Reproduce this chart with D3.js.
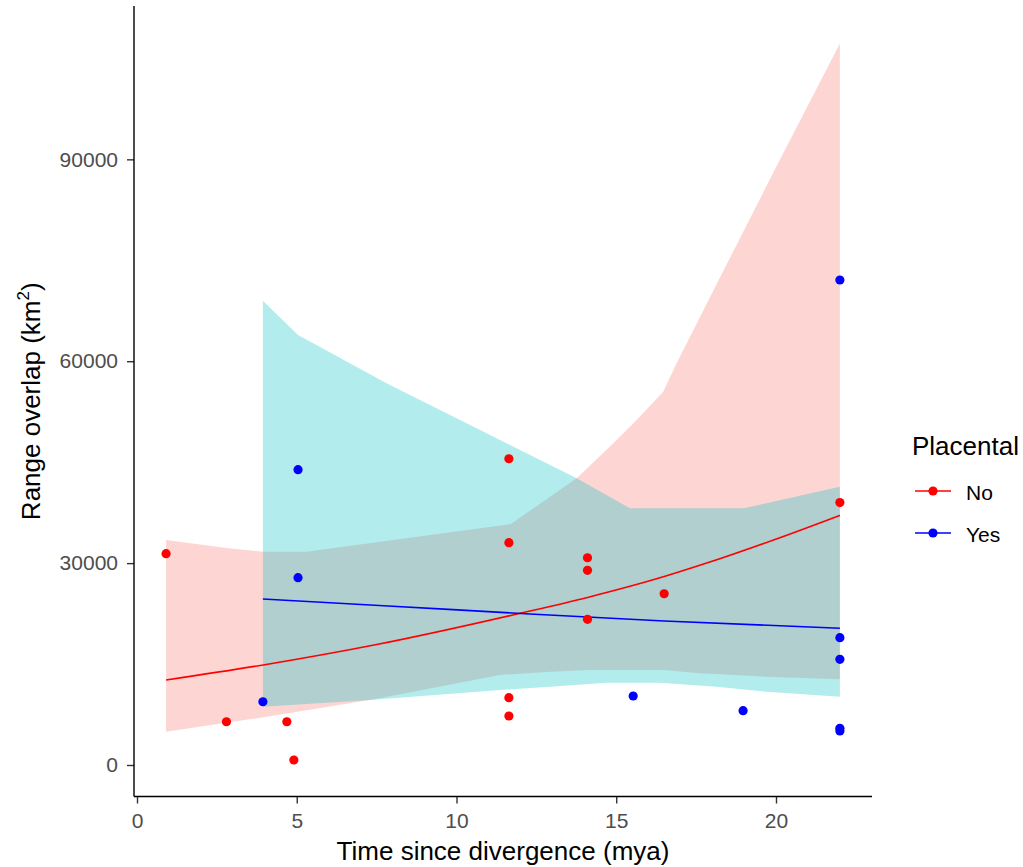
<!DOCTYPE html>
<html>
<head>
<meta charset="utf-8">
<script src="https://cdn.jsdelivr.net/npm/d3@7"></script>
<style>
  html, body { margin: 0; padding: 0; background: #fff; }
  svg { display: block; font-family: "Liberation Sans", Arial, sans-serif; }
</style>
</head>
<body>
<svg id="chart" width="1023" height="867"></svg>
<script>
// ---- data ----
const groups = ["No", "Yes"];
const groupColors = ["red", "blue"];
const ribbonColors = ["#F8766D", "#00BFC4"];

// observed points: [time (mya), range overlap (km2)]
const pointsNo = [
  [0.91, 31400], [2.8, 6430], [4.69, 6430], [4.91, 740],
  [11.64, 45510], [11.64, 33030], [11.64, 10000], [11.64, 7280],
  [14.1, 30800], [14.1, 28930], [14.1, 21650], [16.5, 25450], [22, 39000]
];
const pointsYes = [
  [3.94, 9400], [5.04, 43880], [5.04, 27830], [15.53, 10250], [18.97, 8070],
  [22, 72070], [22, 18920], [22, 15700], [22, 5450], [22, 5050]
];

// fitted lines
const fitNo = [
  [0.91, 12630], [3.95, 14860], [7.5, 17900], [11.99, 22540], [14.1, 24900],
  [16.5, 28000], [17.83, 30000], [19.9, 33400], [22, 37100]
];
const fitYes = [
  [3.94, 24670], [8, 23600], [12.3, 22440], [16.5, 21400], [22, 20310]
];

// confidence ribbons
const upperNo = [
  [0.91, 33430], [2.86, 32200], [3.95, 31700], [5.3, 31700], [11.7, 35800],
  [13.76, 42600], [14.91, 47800], [15.64, 51270], [16.47, 55470], [16.89, 59700],
  [18.04, 70500], [20.02, 89000], [22, 107230]
];
const lowerNo = [
  [0.91, 4950], [3.95, 7090], [7.29, 9660], [11.36, 13370], [12.93, 13870],
  [14.18, 14120], [16.47, 14120], [17.62, 13630], [19.71, 13120], [22, 12740]
];
const upperYes = [
  [3.94, 69000], [5.04, 63900], [7.81, 56720], [11.05, 49040], [13.76, 42600],
  [15.43, 38150], [19.0, 38150], [22, 41360]
];
const lowerYes = [
  [3.94, 8670], [7.29, 9660], [11.36, 11150], [12.93, 11640], [14.7, 12230],
  [16.37, 12230], [18.14, 11640], [19.71, 10890], [22, 10150]
];

const xTicks = [0, 5, 10, 15, 20];
const yTicks = [0, 30000, 60000, 90000];
const xTitle = "Time since divergence (mya)";
const yTitle = "Range overlap (km";
const legendTitle = "Placental";

// ---- layout ----
const svg = d3.select("#chart");
svg.append("rect").attr("width", 1023).attr("height", 867).attr("fill", "#fff");

const panel = { left: 134, right: 872, top: 6, bottom: 796.5 };
const x = d3.scaleLinear().domain([-0.094, 23.005]).range([panel.left, panel.right]);
const y = d3.scaleLinear().domain([-4681, 112787]).range([panel.bottom, panel.top]);

const lineGen = d3.line().x(d => x(d[0])).y(d => y(d[1]));
const curveGen = d3.line().x(d => x(d[0])).y(d => y(d[1])).curve(d3.curveMonotoneX);

// ribbons
const ribbons = [[upperNo, lowerNo], [upperYes, lowerYes]];
ribbons.forEach((r, i) => {
  const poly = r[0].concat(r[1].slice().reverse());
  svg.append("path")
    .attr("d", lineGen(poly) + "Z")
    .attr("fill", ribbonColors[i])
    .attr("fill-opacity", 0.3)
    .attr("stroke", "none");
});

// fitted lines
[fitNo, fitYes].forEach((f, i) => {
  svg.append("path")
    .attr("d", curveGen(f))
    .attr("fill", "none")
    .attr("stroke", groupColors[i])
    .attr("stroke-width", 1.6);
});

// points
[pointsNo, pointsYes].forEach((pts, i) => {
  svg.append("g").selectAll("circle").data(pts).join("circle")
    .attr("cx", d => x(d[0]))
    .attr("cy", d => y(d[1]))
    .attr("r", 4.6)
    .attr("fill", groupColors[i]);
});

// axes
const xAxis = d3.axisBottom(x).tickValues(xTicks).tickSize(7).tickPadding(9.5).tickSizeOuter(0);
const yAxis = d3.axisLeft(y).tickValues(yTicks).tickSize(7).tickPadding(9).tickSizeOuter(0)
  .tickFormat(d3.format("d"));

const gx = svg.append("g").attr("transform", `translate(0,${panel.bottom})`).call(xAxis);
const gy = svg.append("g").attr("transform", `translate(${panel.left},0)`).call(yAxis);
[gx, gy].forEach(g => {
  g.select(".domain").remove();
  g.selectAll(".tick line").attr("stroke", "#333").attr("stroke-width", 1.4);
  g.selectAll(".tick text").attr("fill", "#4D4D4D").attr("font-size", 21)
    .attr("font-family", "Liberation Sans, Arial, sans-serif");
});
// axis lines
svg.append("line").attr("x1", panel.left).attr("x2", panel.right)
  .attr("y1", panel.bottom).attr("y2", panel.bottom)
  .attr("stroke", "#000").attr("stroke-width", 1.4);
svg.append("line").attr("x1", panel.left).attr("x2", panel.left)
  .attr("y1", panel.top).attr("y2", panel.bottom)
  .attr("stroke", "#000").attr("stroke-width", 1.4);

// axis titles
svg.append("text")
  .attr("x", (panel.left + panel.right) / 2).attr("y", 860)
  .attr("text-anchor", "middle").attr("font-size", 26).attr("fill", "#000")
  .text(xTitle);

const yt = svg.append("text")
  .attr("transform", `translate(40,${(panel.top + panel.bottom) / 2}) rotate(-90)`)
  .attr("text-anchor", "middle").attr("font-size", 26).attr("fill", "#000");
yt.append("tspan").text(yTitle);
yt.append("tspan").attr("font-size", 17).attr("dy", -11).text("2");
yt.append("tspan").attr("dy", 11).text(")");

// legend
svg.append("text").attr("x", 912).attr("y", 455)
  .attr("font-size", 26).attr("fill", "#000").text(legendTitle);
const legY = [491, 533];
groups.forEach((g, i) => {
  const lg = svg.append("g");
  lg.append("line").attr("x1", 915).attr("x2", 951).attr("y1", legY[i]).attr("y2", legY[i])
    .attr("stroke", groupColors[i]).attr("stroke-width", 1.6);
  lg.append("circle").attr("cx", 933).attr("cy", legY[i]).attr("r", 4.6).attr("fill", groupColors[i]);
  lg.append("text").attr("x", 966).attr("y", legY[i] + 8.5)
    .attr("font-size", 21).attr("fill", "#000").text(g);
});
</script>
</body>
</html>
